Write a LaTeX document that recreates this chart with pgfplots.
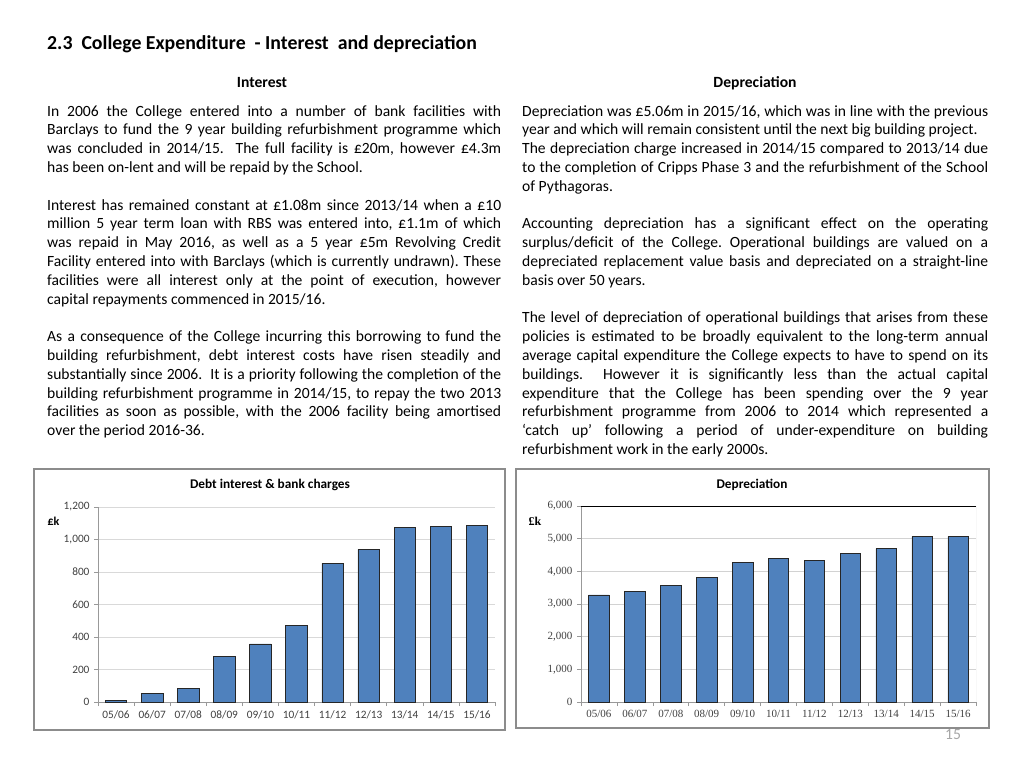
\documentclass[border=0pt]{standalone}
\usepackage{fontspec}
\setmainfont{Carlito}
\newfontfamily\tnr{Liberation Serif}
\usepackage{pgfplots}
\pgfplotsset{compat=1.18}
\frenchspacing
\definecolor{barblue}{HTML}{4F81BD}
\definecolor{framegray}{HTML}{8C8C8C}
\definecolor{ticktext}{HTML}{404040}
\newcommand\bodyfont{\fontsize{15.6}{18.8}\selectfont}
% justified line: x, k, width, text
\newcommand\JL[4]{\node[anchor=base west,inner sep=0pt] at (#1pt,{-(116+18.8*#2)*1pt}) {\bodyfont\makebox[#3pt][s]{#4}};}
% left-aligned line: x, k, text
\newcommand\LL[3]{\node[anchor=base west,inner sep=0pt] at (#1pt,{-(116+18.8*#2)*1pt}) {\bodyfont #3};}
\begin{document}
\begin{tikzpicture}
\path[fill=white,use as bounding box] (0pt,0pt) rectangle (1024pt,-768pt);
% headings
\node[anchor=base west,inner sep=0pt] at (47pt,-49.5pt) {\fontsize{19.8}{23}\selectfont\bfseries 2.3\ \ College Expenditure\ \ - Interest\ \ and depreciation};
\node[anchor=base,inner sep=0pt] at (262pt,-87pt) {\bodyfont\bfseries Interest};
\node[anchor=base,inner sep=0pt] at (755pt,-87pt) {\bodyfont\bfseries Depreciation};
% left column
\JL{47}{0}{454}{In 2006 the College entered into a number of bank facilities with}
\JL{47}{1}{454}{Barclays to fund the 9 year building refurbishment programme which}
\JL{47}{2}{454}{was concluded in 2014/15.\ \ The full facility is £20m, however £4.3m}
\LL{47}{3}{has been on-lent and will be repaid by the School.}
\JL{47}{5}{454}{Interest has remained constant at £1.08m since 2013/14 when a £10}
\JL{47}{6}{454}{million 5 year term loan with RBS was entered into, £1.1m of which}
\JL{47}{7}{454}{was repaid in May 2016, as well as a 5 year £5m Revolving Credit}
\JL{47}{8}{454}{Facility entered into with Barclays (which is currently undrawn). These}
\JL{47}{9}{454}{facilities were all interest only at the point of execution, however}
\LL{47}{10}{capital repayments commenced in 2015/16.}
\JL{47}{12}{454}{As a consequence of the College incurring this borrowing to fund the}
\JL{47}{13}{454}{building refurbishment, debt interest costs have risen steadily and}
\JL{47}{14}{454}{substantially since 2006.\ \ It is a priority following the completion of the}
\JL{47}{15}{454}{building refurbishment programme in 2014/15, to repay the two 2013}
\JL{47}{16}{454}{facilities as soon as possible, with the 2006 facility being amortised}
\LL{47}{17}{over the period 2016-36.}
% right column
\JL{522}{0}{466}{Depreciation was £5.06m in 2015/16, which was in line with the previous}
\LL{522}{1}{year and which will remain consistent until the next big building project.}
\JL{522}{2}{466}{The depreciation charge increased in 2014/15 compared to 2013/14 due}
\JL{522}{3}{466}{to the completion of Cripps Phase 3 and the refurbishment of the School}
\LL{522}{4}{of Pythagoras.}
\JL{522}{6}{466}{Accounting depreciation has a significant effect on the operating}
\JL{522}{7}{466}{surplus/deficit of the College. Operational buildings are valued on a}
\JL{522}{8}{466}{depreciated replacement value basis and depreciated on a straight-line}
\LL{522}{9}{basis over 50 years.}
\JL{522}{11}{466}{The level of depreciation of operational buildings that arises from these}
\JL{522}{12}{466}{policies is estimated to be broadly equivalent to the long-term annual}
\JL{522}{13}{466}{average capital expenditure the College expects to have to spend on its}
\JL{522}{14}{466}{buildings.\ \ However it is significantly less than the actual capital}
\JL{522}{15}{466}{expenditure that the College has been spending over the 9 year}
\JL{522}{16}{466}{refurbishment programme from 2006 to 2014 which represented a}
\JL{522}{17}{466}{‘catch up’ following a period of under-expenditure on building}
\LL{522}{18}{refurbishment work in the early 2000s.}
% page number
\node[text=gray!70,inner sep=0pt] at (953pt,-735pt) {\bodyfont 15};
% chart frames
\draw[framegray,line width=1.2pt,fill=white] (34pt,-469pt) rectangle (505pt,-730pt);
\draw[framegray,line width=1.2pt,fill=white] (516pt,-469pt) rectangle (989pt,-728pt);
% chart titles
\node[inner sep=0pt] at (270pt,-485pt) {\fontsize{13.3}{15}\selectfont\bfseries Debt interest \& bank charges};
\node[inner sep=0pt] at (752pt,-485pt) {\fontsize{13.3}{15}\selectfont\bfseries Depreciation};
\node[inner sep=0pt] at (53.5pt,-521pt) {\fontsize{12}{14}\selectfont\bfseries £k};
\node[inner sep=0pt] at (535pt,-521pt) {\fontsize{12}{14}\selectfont\tnr\bfseries £k};
% left chart
\begin{axis}[at={(98pt,-702pt)}, anchor=south west, scale only axis,
  width=397pt, height=195pt,
  xmin=-0.5, xmax=10.5, ymin=0, ymax=1200,
  ybar, bar width=21.5pt,
  axis x line*=bottom, axis y line*=left,
  ytick={0,200,...,1200},
  xtick={0,...,10},
  xticklabels={05/06,06/07,07/08,08/09,09/10,10/11,11/12,12/13,13/14,14/15,15/16},
  minor xtick={-0.5,0.5,...,10.5},
  major x tick style={draw=none},
  tick align=outside, major tick length=4pt, minor tick length=4pt,
  tick style={draw=gray!80, line width=0.6pt},
  axis line style={draw=gray!80, line width=0.8pt},
  ymajorgrids, grid style={draw=gray!30, line width=0.6pt},
  /pgf/number format/1000 sep={,},
  /pgf/number format/assume math mode=true,
  ticklabel style={font=\fontsize{11.3}{13}\selectfont, text=ticktext},
  yticklabel style={xshift=-1pt},
  xticklabel style={yshift=-1pt},
]
\addplot[fill=barblue, draw=black!85, line width=0.6pt] coordinates {
(0,8) (1,55) (2,86) (3,281) (4,357) (5,472) (6,853) (7,940) (8,1075) (9,1081) (10,1085)};
\end{axis}
% right chart
\begin{axis}[at={(581pt,-702pt)}, anchor=south west, scale only axis,
  width=395pt, height=196pt,
  xmin=-0.5, xmax=10.5, ymin=0, ymax=6000,
  ybar, bar width=20.5pt,
  axis x line*=bottom, axis y line*=left,
  ytick={0,1000,...,6000},
  xtick={0,...,10},
  xticklabels={05/06,06/07,07/08,08/09,09/10,10/11,11/12,12/13,13/14,14/15,15/16},
  minor xtick={-0.5,0.5,...,10.5},
  major x tick style={draw=none},
  tick align=outside, major tick length=4pt, minor tick length=4pt,
  tick style={draw=gray!80, line width=0.6pt},
  axis line style={draw=gray!80, line width=0.8pt},
  ymajorgrids, grid style={draw=gray!35, line width=0.6pt},
  /pgf/number format/1000 sep={,},
  /pgf/number format/assume math mode=true,
  ticklabel style={font=\fontsize{11}{13}\selectfont\tnr, text=ticktext},
  yticklabel style={xshift=-1pt},
  xticklabel style={yshift=-1pt},
]
\addplot[fill=barblue, draw=black!85, line width=0.6pt] coordinates {
(0,3276) (1,3398) (2,3571) (3,3816) (4,4276) (5,4398) (6,4347) (7,4551) (8,4694) (9,5061) (10,5061)};
\draw[black, line width=0.9pt] (rel axis cs:0,1) -- (rel axis cs:1,1);
\draw[gray!40, line width=0.8pt] (rel axis cs:1,0) -- (rel axis cs:1,1);
\end{axis}
\end{tikzpicture}
\end{document}
